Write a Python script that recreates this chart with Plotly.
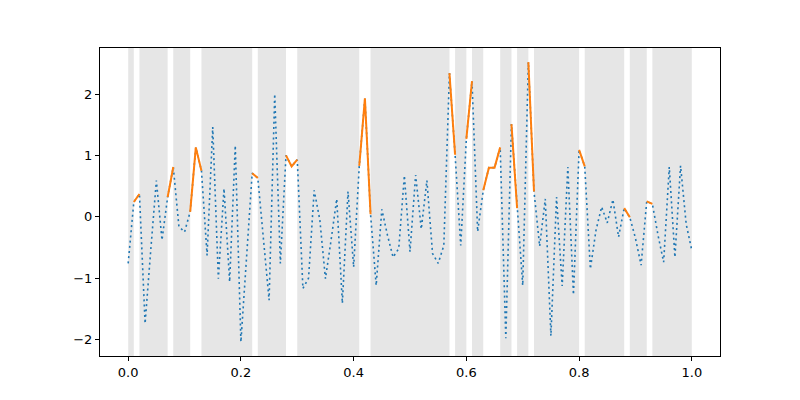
import plotly.graph_objects as go

# sample positions, step 0.01
x = [i / 100 for i in range(101)]

# signal
y = [
    -0.76, 0.24, 0.37, -1.74, -0.55, 0.59, -0.38, 0.32, 0.81, -0.16,
    -0.25, 0.08, 1.13, 0.75, -0.63, 1.46, -1.01, 0.46, -1.06, 1.16,
    -2.04, -0.66, 0.71, 0.63, -0.36, -1.36, 2.00, -0.76, 1.00, 0.82,
    0.93, -1.17, -1.00, 0.43, -0.05, -1.01, -0.38, 0.29, -1.41, 0.41,
    -0.82, 0.83, 1.93, 0.04, -1.12, 0.12, -0.30, -0.66, -0.52, 0.67,
    -0.57, 0.68, -0.20, 0.59, -0.60, -0.76, -0.47, 2.34, 1.01, -0.47,
    1.27, 2.21, -0.24, 0.43, 0.80, 0.80, 1.13, -1.98, 1.51, 0.14,
    -1.12, 2.52, 0.41, -0.48, 0.29, -1.94, 0.32, -1.13, 0.81, -1.27,
    1.09, 0.82, -0.85, -0.22, 0.16, -0.10, 0.28, -0.33, 0.14, -0.01,
    -0.35, -0.79, 0.25, 0.21, -0.30, -0.74, 0.81, -0.66, 0.83, -0.12,
    -0.55,
]

# indices of the points kept in the highlighted (orange) series
kept = [1, 2, 7, 8, 11, 12, 13, 22, 23, 28, 29, 30, 41, 42, 43, 57, 58,
        60, 61, 63, 64, 65, 66, 68, 69, 71, 72, 80, 81, 88, 89, 92, 93]

xticks = [0.0, 0.2, 0.4, 0.6, 0.8, 1.0]
yticks = [-2, -1, 0, 1, 2]

keep = [i in kept for i in range(len(x))]
y_kept = [v if k else None for v, k in zip(y, keep)]

# shaded intervals: every step that is not part of the orange line
shapes = []
start = None
for i in range(len(x) - 1):
    shaded = not (keep[i] and keep[i + 1])
    if shaded and start is None:
        start = i
    if not shaded and start is not None:
        shapes.append((start, i))
        start = None
if start is not None:
    shapes.append((start, len(x) - 1))

fig = go.Figure()
for a, b in shapes:
    fig.add_shape(type="rect", xref="x", yref="paper", x0=x[a], x1=x[b],
                  y0=0, y1=1, fillcolor="rgba(128,128,128,0.2)",
                  line_width=0, layer="below")

fig.add_trace(go.Scatter(x=x, y=y, mode="lines",
                         line=dict(color="#1f77b4", width=1.6,
                                   dash="2px,3.2px")))
fig.add_trace(go.Scatter(x=x, y=y_kept, mode="lines", connectgaps=False,
                         line=dict(color="#ff7f0e", width=2)))

axis_style = dict(showline=True, linecolor="black", linewidth=1, mirror=True,
                  ticks="outside", ticklen=4, tickcolor="black",
                  showgrid=False, zeroline=False,
                  tickfont=dict(family="DejaVu Sans", size=13, color="black"))

# the page body adds 8px on the top and left
fig.update_layout(
    width=800, height=400,
    margin=dict(l=92, r=88, t=40, b=52),
    paper_bgcolor="white", plot_bgcolor="white",
    showlegend=False,
    xaxis=dict(range=[-0.05, 1.05], tickvals=xticks,
               ticktext=["%.1f" % t for t in xticks], **axis_style),
    yaxis=dict(range=[-2.27, 2.75], tickvals=yticks,
               ticktext=[str(t).replace("-", "\u2212") for t in yticks],
               **axis_style),
)

fig.write_html("out.html")
